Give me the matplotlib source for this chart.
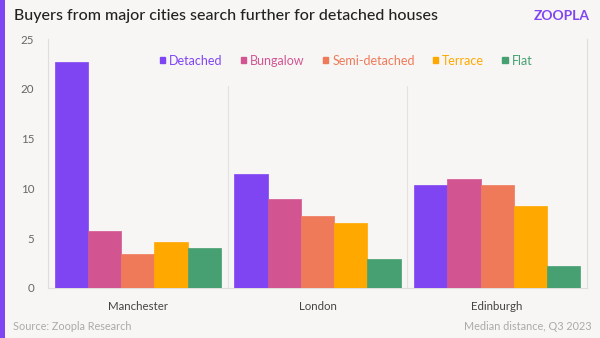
import matplotlib
matplotlib.use("Agg")
import matplotlib.pyplot as plt
from matplotlib.patches import Patch, Rectangle
import numpy as np

cities = ["Manchester", "London", "Edinburgh"]
series = ["Detached", "Bungalow", "Semi-detached", "Terrace", "Flat"]
detached = [22.7, 11.4, 10.3]
bungalow = [5.7, 8.9, 10.9]
semi_detached = [3.4, 7.2, 10.3]
terrace = [4.6, 6.5, 8.2]
flat = [4.0, 2.9, 2.2]
values = [detached, bungalow, semi_detached, terrace, flat]
colors = ["#8045f2", "#d25592", "#ef7a5a", "#ffa800", "#47a072"]
yticks = [0, 5, 10, 15, 20, 25]

BG = "#f7f6f4"
FONT = ["Lato", "DejaVu Sans"]
plt.rcParams["font.family"] = FONT

fig = plt.figure(figsize=(6.0, 3.38), dpi=100, facecolor=BG)
ax = fig.add_axes([48/600, 1-288/338, (587-48)/600, (288-39)/338], facecolor=BG)

n = len(series)
bw = 0.185
x = np.arange(len(cities))
for i, (s, v, c) in enumerate(zip(series, values, colors)):
    ax.bar(x + (i - (n-1)/2)*bw, v, width=bw, color=c, edgecolor=c, linewidth=0.5, label=s, zorder=3)

ax.set_xlim(-0.5, len(cities)-0.5)
ax.set_ylim(0, 25)
ax.set_yticks(yticks)
ax.set_xticks(x)
ax.set_xticklabels(cities)
ax.tick_params(axis="y", length=0, pad=10, labelsize=8.3, labelcolor="#666666")
ax.tick_params(axis="x", length=0, pad=9, labelsize=8.3, labelcolor="#444444")

for b in np.arange(0.5, len(cities)-0.5, 1.0):
    ax.axvline(b, color="#e4e2e0", linewidth=0.8, zorder=1)
ax.spines["top"].set_visible(False)
for side in ["left", "right", "bottom"]:
    ax.spines[side].set_color("#e0dedc")
    ax.spines[side].set_linewidth(0.8)

handles = [Patch(facecolor=c, edgecolor=c) for c in colors]
leg = ax.legend(handles, series, ncol=5, loc="upper center", bbox_to_anchor=(0.553, 1.012),
                frameon=True, facecolor=BG, edgecolor=BG, framealpha=1.0,
                handlelength=0.45, handleheight=0.4, handletextpad=0.3, columnspacing=1.45,
                fontsize=9, labelcolor=colors, borderpad=1.5, borderaxespad=0.0)
leg.get_frame().set_linewidth(0)
leg.set_zorder(5)

fig.text(14/600, 1-16/338, "Buyers from major cities search further for detached houses",
         fontsize=11.5, color="#222222", va="center", ha="left", fontweight="medium")
fig.text(590/600, 1-16/338, "ZOOPLA", fontsize=10, color="#8045f2", va="center", ha="right",
         fontweight="bold")
fig.text(13/600, 1-327/338, "Source: Zoopla Research", fontsize=7.8, color="#aaaaaa",
         va="center", ha="left")
fig.text(592/600, 1-327/338, "Median distance, Q3 2023", fontsize=7.8, color="#aaaaaa",
         va="center", ha="right")

fig.patches.append(Rectangle((0, 0), 4.5/600, 1, transform=fig.transFigure,
                             facecolor="#8045f2", edgecolor="none"))

fig.savefig("out.png", dpi=100, facecolor=BG)
